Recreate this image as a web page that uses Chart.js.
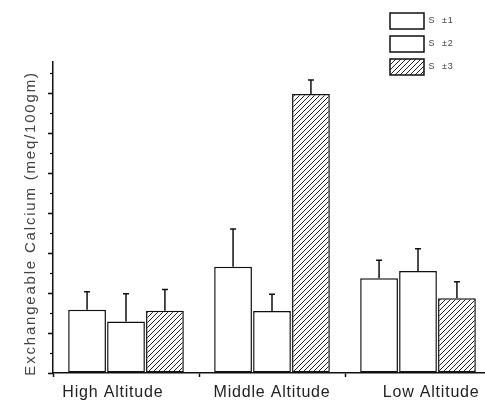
<!DOCTYPE html>
<html>
<head>
<meta charset="utf-8">
<script src="https://cdn.jsdelivr.net/npm/chart.js@4/dist/chart.umd.min.js"></script>
<style>
html,body{margin:0;padding:0;background:#fff;overflow:hidden;}
#wrap{width:495px;height:408px;}
</style>
</head>
<body>
<div id="wrap"><canvas id="c" width="495" height="408"></canvas></div>
<script>
// ---- data ----
const categories = ["High Altitude     ", "Middle Altitude", "     Low Altitude"];
const seriesLabels = ["S  ±1", "S  ±2", "S  ±3"];
const series1 = [1.58, 2.66, 2.37];
const series2 = [1.29, 1.55, 2.55];
const series3 = [1.56, 6.98, 1.87];
const err1 = [0.45, 0.94, 0.45];
const err2 = [0.69, 0.42, 0.56];
const err3 = [0.53, 0.35, 0.41];
const yTitle = "Exchangeable Calcium (meq/100gm)  ";

// hatch pattern
function hatch() {
  const s = 5;
  const p = document.createElement('canvas');
  p.width = s; p.height = s;
  const g = p.getContext('2d');
  g.fillStyle = '#fff'; g.fillRect(0, 0, s, s);
  g.strokeStyle = '#222'; g.lineWidth = 1;
  g.beginPath();
  g.moveTo(-1, s + 1); g.lineTo(s + 1, -1);
  g.moveTo(-1, 1); g.lineTo(1, -1);
  g.moveTo(s - 1, s + 1); g.lineTo(s + 1, s - 1);
  g.stroke();
  return document.getElementById('c').getContext('2d').createPattern(p, 'repeat');
}

const errorBars = {
  id: 'errorBars',
  afterDatasetsDraw(chart) {
    const ctx = chart.ctx;
    const y = chart.scales.y;
    ctx.save();
    ctx.strokeStyle = '#111';
    ctx.lineWidth = 1.5;
    chart.data.datasets.forEach((ds, i) => {
      const meta = chart.getDatasetMeta(i);
      meta.data.forEach((bar, j) => {
        const top = y.getPixelForValue(ds.data[j] + ds.errors[j]);
        ctx.beginPath();
        ctx.moveTo(bar.x, bar.y);
        ctx.lineTo(bar.x, top);
        ctx.moveTo(bar.x - 3, top);
        ctx.lineTo(bar.x + 3, top);
        ctx.stroke();
      });
    });
    ctx.restore();
  }
};

const layoutTweaks = {
  id: 'layoutTweaks',
  afterLayout(chart) {
    const l = chart.legend;
    if (l) {
      l.left = 383; l.top = 6; l.width = 110; l.height = 90;
      l.right = l.left + l.width; l.bottom = l.top + l.height;
    }
    const s = chart.scales.y;
    if (s && !s._spaced) {
      const orig = s.drawTitle;
      s.drawTitle = function () {
        const c = this.ctx;
        c.save();
        c.letterSpacing = '1.8px';
        orig.apply(this, arguments);
        c.restore();
      };
      s._spaced = true;
    }
  },
  beforeDraw(chart) {
    chart.ctx.letterSpacing = '0.8px';
  }
};

const common = {
  borderColor: '#111',
  borderWidth: 1.5,
  borderSkipped: false,
};

new Chart(document.getElementById('c'), {
  type: 'bar',
  data: {
    labels: categories,
    datasets: [
      Object.assign({ label: seriesLabels[0], data: series1, errors: err1, backgroundColor: '#fff' }, common),
      Object.assign({ label: seriesLabels[1], data: series2, errors: err2, backgroundColor: '#fff' }, common),
      Object.assign({ label: seriesLabels[2], data: series3, errors: err3, backgroundColor: hatch() }, common),
    ]
  },
  options: {
    responsive: false,
    animation: false,
    devicePixelRatio: 1,
    categoryPercentage: 0.8,
    barPercentage: 0.97,
    layout: { padding: { left: 0, top: 62, right: 4, bottom: 0 } },
    plugins: {
      legend: {
        position: 'chartArea',
        align: 'start',
        labels: {
          boxWidth: 34, boxHeight: 16, padding: 7,
          color: '#444',
          font: { family: 'Liberation Sans', size: 9 }
        }
      },
      tooltip: { enabled: false }
    },
    scales: {
      x: {
        type: 'category',
        offset: true,
        grid: { display: true, offset: true, drawOnChartArea: false, tickLength: 4, tickColor: '#111', tickWidth: 1.5 },
        border: { display: true, color: '#111', width: 1.5 },
        ticks: { color: '#222', padding: 6, font: { family: 'Liberation Sans', size: 16 }, maxRotation: 0 },
        afterFit(s) { s.height = 35; }
      },
      y: {
        position: 'left',
        weight: 1,
        min: 0, max: 7.78,
        ticks: { display: false, stepSize: 1, includeBounds: false },
        grid: { drawOnChartArea: false, tickLength: 5, tickColor: '#111', tickWidth: 1.5 },
        border: { display: true, color: '#111', width: 1.5 },
        title: { display: true, text: yTitle, color: '#444', padding: { top: 22, bottom: 0 }, font: { family: 'Liberation Sans', size: 15 } },
        afterFit(s) { s.width = 53; }
      },
      y2: {
        position: 'left',
        weight: 0,
        min: 0, max: 7.78,
        ticks: { display: false, stepSize: 0.5, includeBounds: false },
        grid: { drawOnChartArea: false, tickLength: 3, tickColor: '#111', tickWidth: 1.2 },
        border: { display: false },
        afterFit(s) { s.width = 0; }
      }
    }
  },
  plugins: [errorBars, layoutTweaks]
});
</script>
</body>
</html>
